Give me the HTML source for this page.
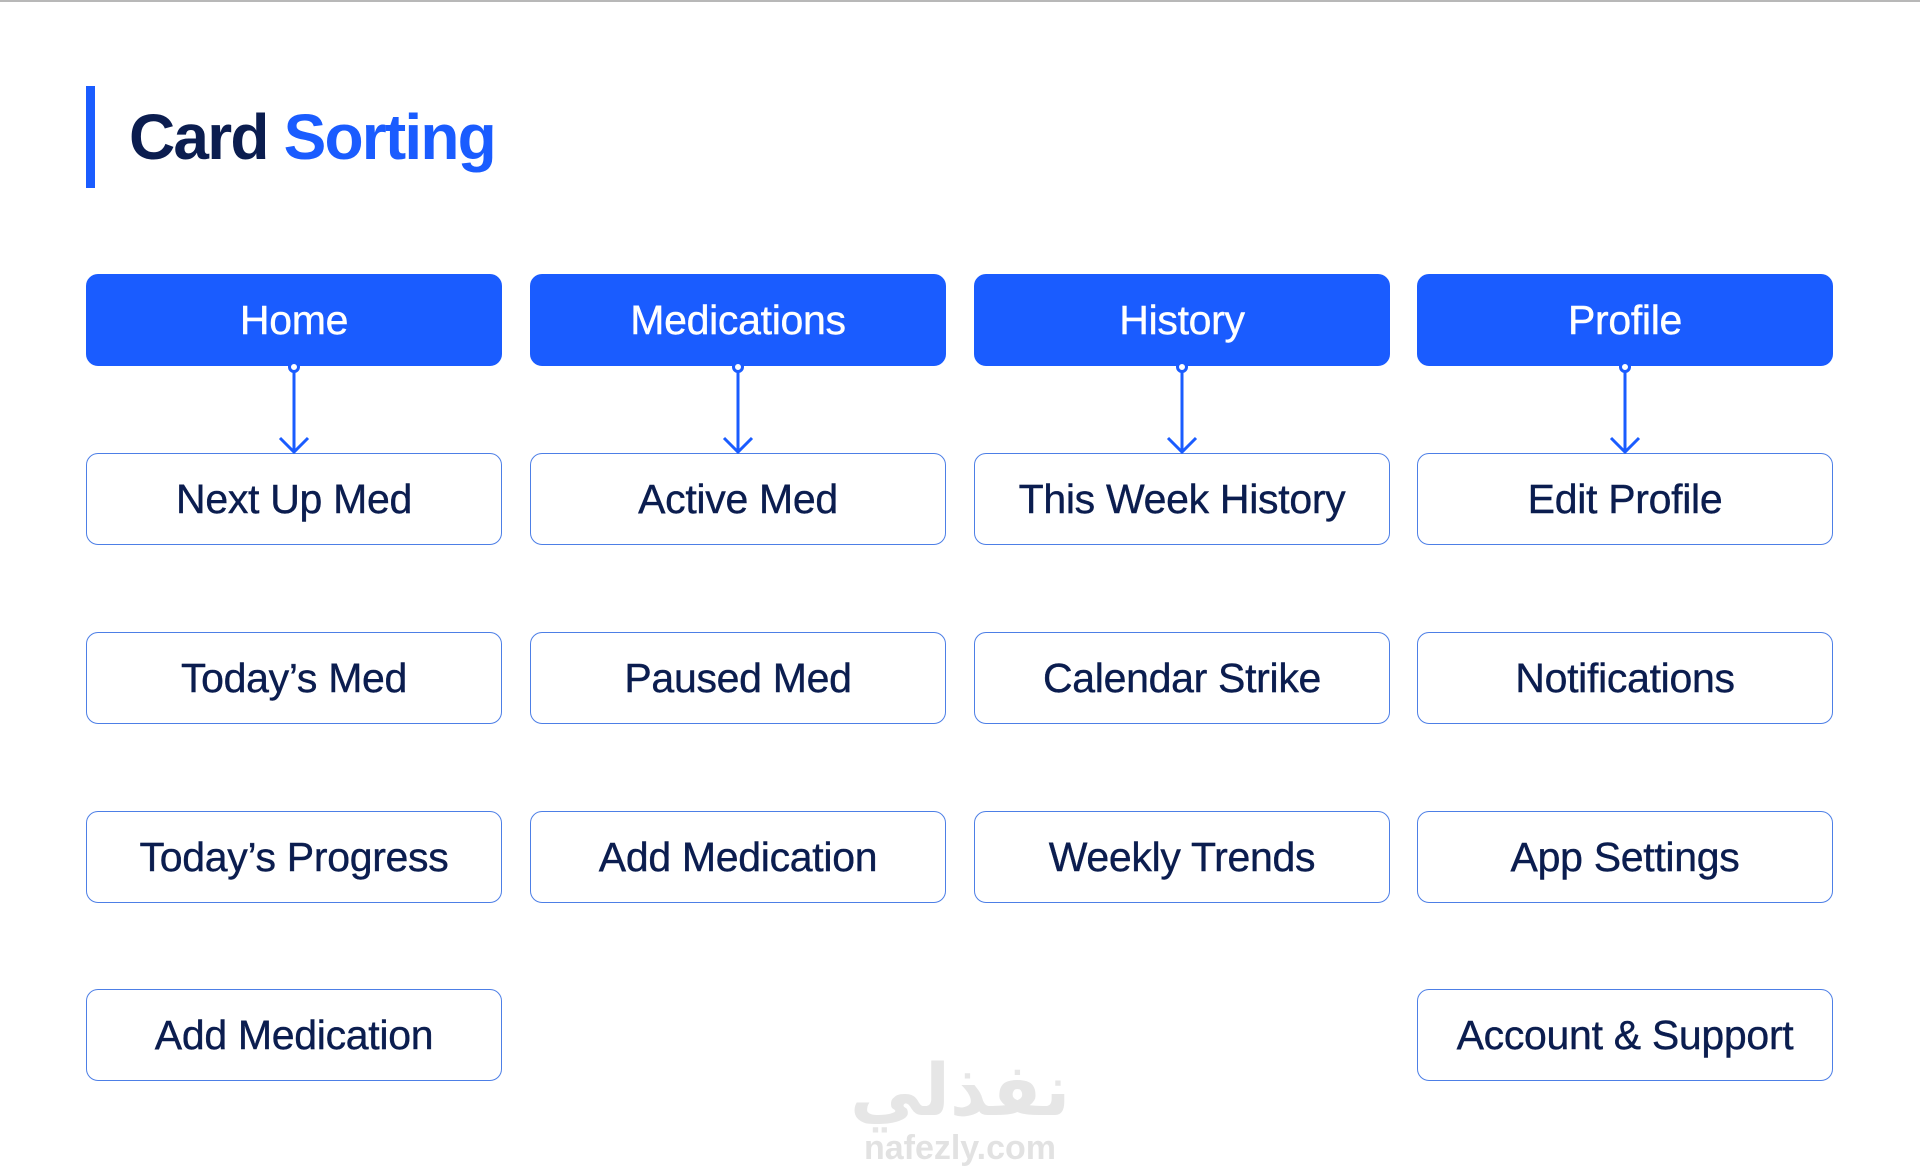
<!DOCTYPE html>
<html><head><meta charset="utf-8"><style>
body{margin:0;width:1920px;height:1167px;background:#fff;position:relative;overflow:hidden;font-family:"Liberation Sans",sans-serif}
.top{position:absolute;left:0;top:0;width:1920px;height:2px;background:#b8b8b8}
.bar{position:absolute;left:86px;top:86px;width:9px;height:102px;background:#1a5cff}
.title{position:absolute;left:129px;top:97px;font-size:64px;font-weight:bold;color:#0b1d4f;letter-spacing:-1.8px;line-height:80px}
.title span{color:#1a5cff}
.b{position:absolute;width:414px;height:90px;border:1.5px solid #4d7fe6;border-radius:12px;box-sizing:content-box;display:flex;align-items:center;justify-content:center;font-size:41px;color:#0b1d4f;letter-spacing:-0.3px;-webkit-text-stroke:0.4px #0b1d4f}
.h{background:#1a5cff;border-color:#1a5cff;color:#fff;-webkit-text-stroke:0.4px #fff}
.wm{position:absolute;left:850px;top:1050px;width:220px;text-align:center;color:#e6e6e6;font-weight:bold}
</style></head><body>
<div class="top"></div>
<div class="bar"></div>
<div class="title">Card <span>Sorting</span></div>
<div class="b h" style="left:86px;top:274px">Home</div>
<div class="b h" style="left:530px;top:274px">Medications</div>
<div class="b h" style="left:974px;top:274px">History</div>
<div class="b h" style="left:1417px;top:274px">Profile</div>
<div class="b" style="left:86px;top:453px">Next Up Med</div>
<div class="b" style="left:530px;top:453px">Active Med</div>
<div class="b" style="left:974px;top:453px">This Week History</div>
<div class="b" style="left:1417px;top:453px">Edit Profile</div>
<div class="b" style="left:86px;top:632px">Today’s Med</div>
<div class="b" style="left:530px;top:632px">Paused Med</div>
<div class="b" style="left:974px;top:632px">Calendar Strike</div>
<div class="b" style="left:1417px;top:632px">Notifications</div>
<div class="b" style="left:86px;top:811px">Today’s Progress</div>
<div class="b" style="left:530px;top:811px">Add Medication</div>
<div class="b" style="left:974px;top:811px">Weekly Trends</div>
<div class="b" style="left:1417px;top:811px">App Settings</div>
<div class="b" style="left:86px;top:989px">Add Medication</div>
<div class="b" style="left:1417px;top:989px">Account &amp; Support</div>
<svg style="position:absolute;left:0;top:0" width="1920" height="1167">
<g stroke="#1a5cff" stroke-width="3" fill="none">
<g id="a"><circle cx="294" cy="367" r="4.5" fill="#fff"/><line x1="294" y1="372" x2="294" y2="452"/><polyline points="280,438 294,452 308,438"/></g>
<use href="#a" x="444"/><use href="#a" x="888"/><use href="#a" x="1331"/>
</g></svg>
<div class="wm" style="top:1050px;font-size:72px;line-height:80px;font-family:'DejaVu Sans',sans-serif">نفذلي</div>
<div class="wm" style="left:840px;width:240px;top:1128px;font-size:34px;line-height:40px;color:#e2e2e2">nafezly.com</div>
</body></html>
